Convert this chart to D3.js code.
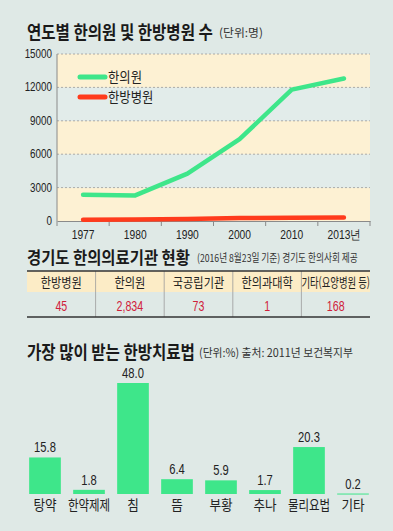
<!DOCTYPE html>
<html>
<head>
<meta charset="utf-8">
<script src="https://cdn.jsdelivr.net/npm/d3@7"></script>
<style>
  html, body { margin: 0; padding: 0; background: #dfe9e6; }
  svg { display: block; }
</style>
</head>
<body>
<div id="chart"></div>
<script>
// data
const years = ['1977', '1980', '1990', '2000', '2010', '2013']
const clinicCounts = [2350, 2300, 4250, 7350, 11800, 12800]
const hospitalCounts = [110, 130, 170, 260, 290, 320]
const yTickValues = [0, 3000, 6000, 9000, 12000, 15000]

const orgTypes = ['한방병원', '한의원', '국공립기관', '한의과대학', '기타(요양병원 등)']
const orgCounts = ['45', '2,834', '73', '1', '168']

const therapies = ['탕약', '한약제제', '침', '뜸', '부황', '추나', '물리요법', '기타']
const therapyShares = [15.8, 1.8, 48.0, 6.4, 5.9, 1.7, 20.3, 0.2]

const green = '#3ee68a'
const red = '#ff3b1c'
const KR = '"Noto Sans CJK KR", "Noto Sans", sans-serif'
const NUM = '"Liberation Sans", Arial, sans-serif'

const width = 393
const height = 531

// the reference uses a condensed face, so squeeze text horizontally
const squeezed = (sel, x, y, sx) => sel
    .attr('transform', `translate(${x}, ${y}) scale(${sx}, 1)`)

// squeeze a left-aligned text so it spans a given width
const fitWidth = (sel, x, y, w) => {
    const len = sel.node().getComputedTextLength()
    squeezed(sel, x, y, w / len)
}

const svg = d3.select('#chart')
    .append('svg')
    .attr('width', width)
    .attr('height', height)

svg.append('rect')
    .attr('width', width)
    .attr('height', height)
    .attr('fill', '#dfe9e6')

// ---------- section 1: line chart ----------
svg.append('text')
    .attr('font-family', KR).attr('font-weight', 700).attr('font-size', 18)
    .attr('fill', '#1a1a1a')
    .text('연도별 한의원 및 한방병원 수')
    .call(fitWidth, 27, 39, 186)

svg.append('text')
    .attr('font-family', KR).attr('font-size', 11.5)
    .attr('fill', '#333')
    .text('(단위:명)')
    .call(fitWidth, 219, 37, 44)

const plot = {left: 57, right: 370, top: 54, bottom: 221}

const xScale = d3.scaleBand()
    .domain(years)
    .range([plot.left, plot.right])

const yScale = d3.scaleLinear()
    .domain([0, 15000])
    .range([plot.bottom, plot.top])

// alternating bands between gridlines
svg.append('g')
    .selectAll('rect')
    .data(yTickValues.slice(0, -1))
    .enter()
    .append('rect')
        .attr('x', plot.left)
        .attr('y', (d, i) => yScale(yTickValues[i + 1]))
        .attr('width', plot.right - plot.left)
        .attr('height', (d, i) => yScale(d) - yScale(yTickValues[i + 1]))
        .attr('fill', (d, i) => i % 2 === 0 ? '#fdf1d3' : '#e2ecea')

// dashed gridlines
svg.append('g')
    .selectAll('line')
    .data(yTickValues.filter(d => d > 0))
    .enter()
    .append('line')
        .attr('x1', plot.left).attr('x2', plot.right)
        .attr('y1', d => yScale(d)).attr('y2', d => yScale(d))
        .attr('stroke', '#9a9a9a')
        .attr('stroke-width', 0.8)
        .attr('stroke-dasharray', '2,2')

svg.append('line')
    .attr('x1', plot.left).attr('x2', plot.left)
    .attr('y1', plot.top).attr('y2', plot.bottom)
    .attr('stroke', '#8a8a8a')

// y labels
svg.append('g')
    .selectAll('text')
    .data(yTickValues)
    .enter()
    .append('text')
        .each(function(d) { squeezed(d3.select(this), 52, yScale(d) + 4, 0.82) })
        .attr('text-anchor', 'end')
        .attr('font-family', NUM).attr('font-size', 12)
        .attr('fill', '#222')
        .text(d => d)

// x axis with ticks on band edges
const xAxis = svg.append('g')
    .attr('transform', `translate(0, ${plot.bottom})`)
    .call(d3.axisBottom(xScale).tickSize(0).tickPadding(9)
        .tickFormat((d, i) => i === years.length - 1 ? d + '년' : d))

xAxis.select('.domain').attr('stroke', '#8a8a8a')
xAxis.selectAll('.tick text')
    .attr('font-family', NUM).attr('font-size', 12.5)
    .attr('fill', '#222')
    .attr('transform', 'scale(0.82, 1)')

xAxis.selectAll('.edge')
    .data(years.concat(['end']))
    .enter()
    .append('line')
        .attr('x1', (d, i) => plot.left + i * xScale.step())
        .attr('x2', (d, i) => plot.left + i * xScale.step())
        .attr('y1', 0).attr('y2', 5)
        .attr('stroke', '#8a8a8a')

const lineGen = d3.line()
    .x((d, i) => xScale(years[i]) + xScale.bandwidth() / 2)
    .y(d => yScale(d))

svg.append('path')
    .attr('d', lineGen(hospitalCounts))
    .attr('fill', 'none')
    .attr('stroke', red)
    .attr('stroke-width', 4.5)
    .attr('stroke-linecap', 'round')

svg.append('path')
    .attr('d', lineGen(clinicCounts))
    .attr('fill', 'none')
    .attr('stroke', green)
    .attr('stroke-width', 4.5)
    .attr('stroke-linecap', 'round')
    .attr('stroke-linejoin', 'round')

// legend
const legendItems = [{name: '한의원', color: green}, {name: '한방병원', color: red}]
const legend = svg.append('g')
    .selectAll('g')
    .data(legendItems)
    .enter()
    .append('g')
        .attr('transform', (d, i) => `translate(80, ${77 + i * 20})`)

legend.append('line')
    .attr('x1', 0).attr('x2', 25)
    .attr('stroke', d => d.color)
    .attr('stroke-width', 5)
    .attr('stroke-linecap', 'round')

legend.append('text')
    .call(squeezed, 28, 5, 0.88)
    .attr('font-family', KR).attr('font-size', 14)
    .attr('fill', '#222')
    .text(d => d.name)

// ---------- section 2: table ----------
svg.append('text')
    .attr('font-family', KR).attr('font-weight', 700).attr('font-size', 17)
    .attr('fill', '#1a1a1a')
    .text('경기도 한의의료기관 현황')
    .call(fitWidth, 27, 264, 163)

svg.append('text')
    .attr('font-family', KR).attr('font-size', 11)
    .attr('fill', '#333')
    .text('(2016년 8월23일 기준) 경기도 한의사회 제공')
    .call(fitWidth, 197, 262, 161)

const colScale = d3.scaleBand()
    .domain(orgTypes)
    .range([27, 370])

const table = {top: 271, mid: 292, bottom: 317}

svg.append('rect')
    .attr('x', 27).attr('y', table.top)
    .attr('width', 343).attr('height', table.mid - table.top)
    .attr('fill', '#fcecc6')

svg.selectAll('.col-divider')
    .data(orgTypes.slice(1))
    .enter()
    .append('line')
        .attr('x1', d => colScale(d)).attr('x2', d => colScale(d))
        .attr('y1', table.top).attr('y2', table.bottom)
        .attr('stroke', '#9a9a9a')
        .attr('stroke-width', 0.8)

svg.selectAll('.row-line')
    .data([table.top, table.bottom])
    .enter()
    .append('line')
        .attr('x1', 27).attr('x2', 370)
        .attr('y1', d => d).attr('y2', d => d)
        .attr('stroke', '#333')
        .attr('stroke-width', 1.3)

svg.append('g')
    .selectAll('text')
    .data(orgTypes)
    .enter()
    .append('text')
        .each(function(d) {
            const sx = d.length > 6 ? 0.72 : 0.86
            squeezed(d3.select(this), colScale(d) + colScale.bandwidth() / 2, 287, sx)
        })
        .attr('text-anchor', 'middle')
        .attr('font-family', KR).attr('font-size', 13)
        .attr('fill', '#222')
        .text(d => d)

svg.append('g')
    .selectAll('text')
    .data(orgCounts)
    .enter()
    .append('text')
        .each(function(d, i) {
            squeezed(d3.select(this), colScale(orgTypes[i]) + colScale.bandwidth() / 2, 311, 0.76)
        })
        .attr('text-anchor', 'middle')
        .attr('font-family', NUM).attr('font-size', 14)
        .attr('fill', '#d0203a')
        .text(d => d)

// ---------- section 3: bar chart ----------
svg.append('text')
    .attr('font-family', KR).attr('font-weight', 700).attr('font-size', 18)
    .attr('fill', '#1a1a1a')
    .text('가장 많이 받는 한방치료법')
    .call(fitWidth, 27, 359, 168)

svg.append('text')
    .attr('font-family', KR).attr('font-size', 11.5)
    .attr('fill', '#333')
    .text('(단위:%) 출처: 2011년 보건복지부')
    .call(fitWidth, 199, 357, 154)

const barX = d3.scaleBand()
    .domain(therapies)
    .range([23, 375])
    .paddingInner(0.28)
    .paddingOuter(0.14)

const barY = d3.scaleLinear()
    .domain([0, 48])
    .range([494, 383])

const bars = svg.append('g')
    .selectAll('g')
    .data(therapies.map((t, i) => ({name: t, value: therapyShares[i]})))
    .enter()
    .append('g')

bars.append('rect')
    .attr('x', d => barX(d.name))
    .attr('y', d => barY(d.value))
    .attr('width', barX.bandwidth())
    .attr('height', d => Math.max(1, barY(0) - barY(d.value)))
    .attr('fill', green)

bars.append('text')
    .each(function(d) {
        squeezed(d3.select(this), barX(d.name) + barX.bandwidth() / 2, barY(d.value) - 5, 0.8)
    })
    .attr('text-anchor', 'middle')
    .attr('font-family', NUM).attr('font-size', 14)
    .attr('fill', '#222')
    .text(d => d.value.toFixed(1))

bars.append('text')
    .each(function(d) {
        const sx = d.name.length >= 4 ? 0.82 : 0.9
        squeezed(d3.select(this), barX(d.name) + barX.bandwidth() / 2, 510, sx)
    })
    .attr('text-anchor', 'middle')
    .attr('font-family', KR).attr('font-size', 14)
    .attr('fill', '#222')
    .text(d => d.name)
</script>
</body>
</html>
